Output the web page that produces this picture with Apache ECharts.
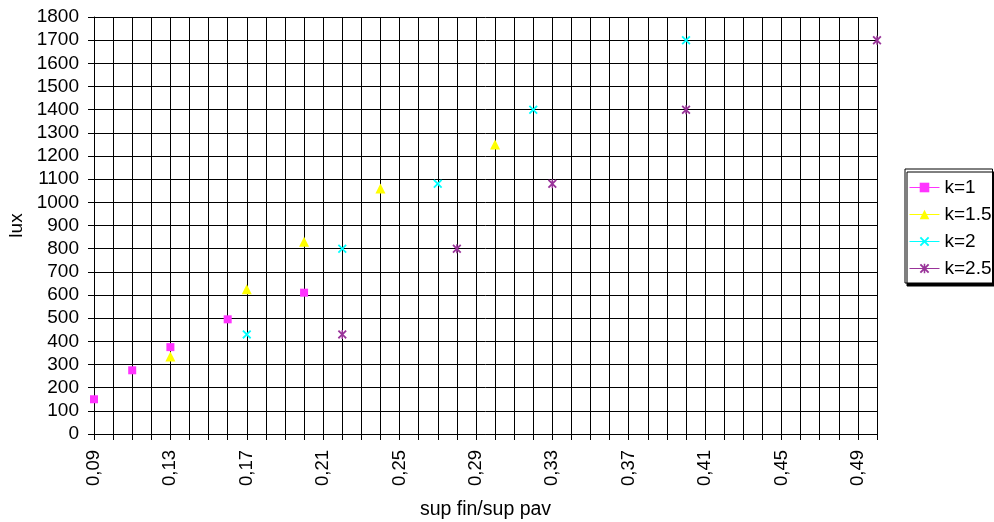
<!DOCTYPE html>
<html><head><meta charset="utf-8">
<script src="https://cdn.jsdelivr.net/npm/echarts@6/dist/echarts.min.js"></script>
<style>html,body{margin:0;padding:0;background:#fff}#c{width:994px;height:522px}</style>
</head><body><div id="c"></div>
<script>
var categories = ['0,09','0,10','0,11','0,12','0,13','0,14','0,15','0,16','0,17','0,18','0,19','0,20','0,21','0,22','0,23','0,24','0,25','0,26','0,27','0,28','0,29','0,30','0,31','0,32','0,33','0,34','0,35','0,36','0,37','0,38','0,39','0,40','0,41','0,42','0,43','0,44','0,45','0,46','0,47','0,48','0,49','0,50'];
var k1x = ['0,09','0,11','0,13','0,16','0,20'];
var k1y = [150, 275, 375, 495, 610];
var k15x = ['0,13','0,17','0,20','0,24','0,30'];
var k15y = [335, 625, 830, 1060, 1250];
var k2x = ['0,17','0,22','0,27','0,32','0,40'];
var k2y = [430, 800, 1080, 1400, 1700];
var k25x = ['0,22','0,28','0,33','0,40','0,50'];
var k25y = [430, 800, 1080, 1400, 1700];
var seriesNames = ['k=1','k=1.5','k=2','k=2.5'];

function pairs(xs, ys){ return xs.map(function(x,i){return [x, ys[i]];}); }
var F = 'Liberation Sans, Arial, sans-serif';
var xPath = 'path://M0,1.4L1.4,0L5,3.6L8.6,0L10,1.4L6.4,5L10,8.6L8.6,10L5,6.4L1.4,10L0,8.6L3.6,5Z';
var starPath = 'path://M0,1.4L1.4,0L4.2,2.8L4.2,0L5.8,0L5.8,2.8L8.6,0L10,1.4L6.4,5L10,8.6L8.6,10L5.8,7.2L5.8,10L4.2,10L4.2,7.2L1.4,10L0,8.6L3.6,5Z';
var colors = ['#FF33FF','#FFFF00','#00FFFF','#993399'];
var symbols = ['rect','triangle',xPath,starPath];
var sizes = [8,10,9,9];
var datas = [pairs(k1x,k1y), pairs(k15x,k15y), pairs(k2x,k2y), pairs(k25x,k25y)];

var chart = echarts.init(document.getElementById('c'), null, {renderer:'canvas'});
chart.setOption({
  animation:false,
  backgroundColor:'#fff',
  grid:{left:94, right:117, top:17, bottom:88, containLabel:false, outerBoundsMode:'none'},
  xAxis:{
    type:'category', data:categories, boundaryGap:false,
    name:'sup fin/sup pav', nameLocation:'middle', nameGap:66,
    nameTextStyle:{fontFamily:F, fontSize:19.5, color:'#000'},
    axisLine:{lineStyle:{color:'#000', width:1}},
    axisTick:{show:true, interval:0, length:6, lineStyle:{color:'#000'}},
    axisLabel:{interval:3, rotate:90, margin:16, fontFamily:F, fontSize:18.5, color:'#000'},
    splitLine:{show:true, interval:0, lineStyle:{color:'#000', width:1}}
  },
  yAxis:{
    type:'value', min:0, max:1800, interval:100,
    name:'lux', nameLocation:'middle', nameGap:62, nameRotate:90,
    nameTextStyle:{fontFamily:F, fontSize:19, color:'#000'},
    axisLine:{show:true, lineStyle:{color:'#000'}},
    axisTick:{show:true, length:6, lineStyle:{color:'#000'}},
    axisLabel:{margin:15, fontFamily:F, fontSize:19, color:'#000', formatter:function(v){return String(v);}},
    splitLine:{show:true, lineStyle:{color:'#000', width:1}}
  },
  legend:{
    orient:'vertical', left:905, top:169,
    padding:[9,1,5,4],
    borderColor:'#000', borderWidth:1,
    backgroundColor:'#fff',
    shadowColor:'#000', shadowOffsetX:2, shadowOffsetY:3, shadowBlur:0,
    itemWidth:30, itemHeight:12, itemGap:8,
    textStyle:{fontFamily:F, fontSize:19, lineHeight:19, color:'#000'},
    lineStyle:{opacity:1, width:1},
    data:seriesNames
  },
  series: seriesNames.map(function(n,i){
    return {
      name:n, type:'line', data:datas[i],
      symbol:symbols[i], symbolSize:sizes[i], showSymbol:true,
      itemStyle:{color:colors[i]},
      lineStyle:{color:colors[i], width:1, opacity:0},
      emphasis:{disabled:true}
    };
  })
});
</script></body></html>
